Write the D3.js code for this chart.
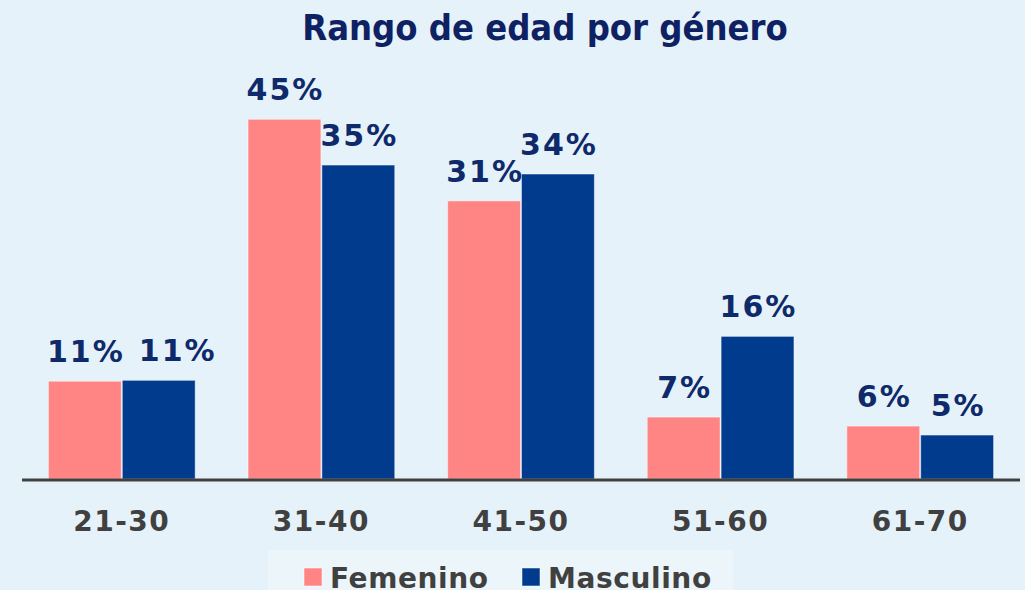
<!DOCTYPE html>
<html>
<head>
<meta charset="utf-8">
<script src="https://cdn.jsdelivr.net/npm/d3@7"></script>
<style>
  body { margin: 0; background: #e6f2f9; }
  svg { display: block; }
</style>
</head>
<body>
<div id="vis"></div>
<script>
var width = 1025;
var height = 590;

// data
var categories = ['21-30', '31-40', '41-50', '51-60', '61-70'];
var series = ['Femenino', 'Masculino'];
// bar heights as drawn (percent)
var femenino = [10.9, 40.1, 31.0, 6.9, 5.9];
var masculino = [11.0, 35.0, 34.0, 15.9, 4.9];
// value labels as printed
var femeninoLabels = ['11%', '45%', '31%', '7%', '6%'];
var masculinoLabels = ['11%', '35%', '34%', '16%', '5%'];

var colors = ['#ff8585', '#003b8e'];
var baseline = 479;

var svg = d3.select('#vis').append('svg')
  .attr('width', width)
  .attr('height', height);

svg.append('rect')
  .attr('width', width)
  .attr('height', height)
  .attr('fill', '#e6f2f9');

var x0 = d3.scaleBand()
  .domain(categories)
  .range([22, 1020])
  .paddingInner(0.26)
  .paddingOuter(0.13);

var x1 = d3.scaleBand()
  .domain(series)
  .range([0, x0.bandwidth()]);

var y = d3.scaleLinear()
  .domain([0, 50])
  .range([baseline, baseline - 448.5]);

var rows = categories.map(function (c, i) {
  return {
    cat: c,
    vals: [
      { s: series[0], v: femenino[i], label: femeninoLabels[i] },
      { s: series[1], v: masculino[i], label: masculinoLabels[i] }
    ]
  };
});

// title
svg.append('text')
  .attr('x', 545)
  .attr('y', 40)
  .attr('text-anchor', 'middle')
  .style('font-family', 'DejaVu Sans Condensed, DejaVu Sans')
  .style('font-weight', 'bold')
  .style('font-size', '36px')
  .style('fill', '#0e2163')
  .text('Rango de edad por género');

var grp = svg.selectAll('.grp')
  .data(rows)
  .enter().append('g')
    .attr('class', 'grp')
    .attr('transform', function (d) { return 'translate(' + x0(d.cat) + ',0)'; });

grp.selectAll('rect')
  .data(function (d) { return d.vals; })
  .enter().append('rect')
    .attr('x', function (d) { return x1(d.s) + 0.5; })
    .attr('y', function (d) { return y(d.v); })
    .attr('width', x1.bandwidth() - 1)
    .attr('height', function (d) { return baseline - y(d.v); })
    .attr('fill', function (d, i) { return colors[i]; })
    .attr('stroke', 'rgba(255,255,255,0.45)')
    .attr('stroke-width', 1);

grp.selectAll('.lbl')
  .data(function (d) { return d.vals; })
  .enter().append('text')
    .attr('class', 'lbl')
    .attr('x', function (d) { return x1(d.s) + x1.bandwidth() / 2 + 1; })
    .attr('y', function (d) { return y(d.v) - 19; })
    .attr('text-anchor', 'middle')
    .style('font-family', 'DejaVu Sans')
    .style('font-weight', 'bold')
    .style('font-size', '30px')
    .style('letter-spacing', '2px')
    .style('fill', '#0e2a6b')
    .text(function (d) { return d.label; });

// push apart labels of a group that sit on the same line
grp.each(function () {
  var lbls = d3.select(this).selectAll('.lbl').nodes();
  var a = lbls[0].getBBox(), b = lbls[1].getBBox();
  if (Math.abs(a.y - b.y) < 20 && b.x < a.x + a.width + 14) {
    var shift = a.x + a.width + 14 - b.x;
    d3.select(lbls[1]).attr('x', +d3.select(lbls[1]).attr('x') + shift);
  }
});

// axis
var xAxis = d3.axisBottom(x0).tickSize(0).tickPadding(32);
var ax = svg.append('g')
  .attr('transform', 'translate(0,' + baseline + ')')
  .call(xAxis);
ax.select('.domain').remove();
ax.selectAll('text')
  .style('font-family', 'DejaVu Sans')
  .style('font-weight', 'bold')
  .style('font-size', '28px')
  .style('letter-spacing', '1.5px')
  .style('fill', '#404040')
  .attr('dy', '0.71em');

svg.append('line')
  .attr('x1', 22).attr('x2', 1020)
  .attr('y1', baseline + 1).attr('y2', baseline + 1)
  .attr('stroke', '#404040')
  .attr('stroke-width', 3);

// legend
var leg = svg.append('g');
leg.append('rect')
  .attr('x', 268).attr('y', 550)
  .attr('width', 465).attr('height', 45)
  .attr('fill', '#ecf5f9');

var legX = [304, 522];
series.forEach(function (s, i) {
  leg.append('rect')
    .attr('x', legX[i]).attr('y', 568)
    .attr('width', 18).attr('height', 18)
    .attr('fill', colors[i])
    .attr('stroke', 'rgba(255,255,255,0.5)');
  leg.append('text')
    .attr('x', legX[i] + 26)
    .attr('y', 588)
    .style('font-family', 'DejaVu Sans')
    .style('font-weight', 'bold')
    .style('font-size', '28px')
    .style('letter-spacing', '0.6px')
    .style('fill', '#404040')
    .text(s);
});
</script>
</body>
</html>
